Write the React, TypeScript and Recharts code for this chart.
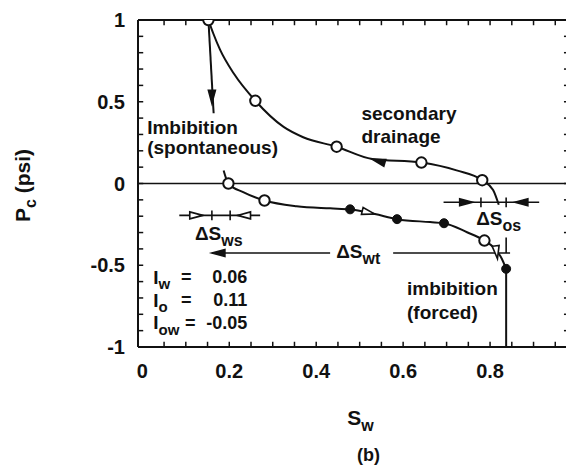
import React from "react"
import { ComposedChart, Line, Scatter, XAxis, YAxis, ReferenceLine } from "recharts"

const INK = "#111"
const FONT = '"Liberation Sans", Arial, Helvetica, sans-serif'

// secondary drainage curve
const drainageSw = [0.152, 0.163, 0.179, 0.21, 0.26, 0.325, 0.37, 0.447, 0.529, 0.642, 0.723, 0.782, 0.807, 0.82]
const drainagePc = [1.0, 0.919, 0.817, 0.674, 0.506, 0.346, 0.283, 0.225, 0.15, 0.128, 0.08, 0.02, -0.04, -0.13]

// imbibition curve (spontaneous part, then forced part)
const imbibitionSw = [0.187, 0.198, 0.232, 0.281, 0.355, 0.432, 0.478, 0.535, 0.586, 0.662, 0.694, 0.747, 0.787, 0.808, 0.827, 0.837]
const imbibitionPc = [0.08, 0.0, -0.053, -0.104, -0.139, -0.152, -0.158, -0.187, -0.218, -0.236, -0.243, -0.298, -0.349, -0.39, -0.46, -0.522]

// straight drop from Pc = 1 (spontaneous imbibition arrow)
const dropSw = [0.152, 0.164]
const dropPc = [1.0, 0.43]

// forced imbibition, vertical tail
const forcedSw = [0.837, 0.837]
const forcedPc = [-0.522, -1.0]

// measured points
const openSw = [0.152, 0.26, 0.447, 0.642, 0.782, 0.198, 0.281, 0.787]
const openPc = [1.0, 0.506, 0.225, 0.128, 0.02, 0.0, -0.104, -0.349]
const filledSw = [0.478, 0.586, 0.694, 0.837]
const filledPc = [-0.158, -0.218, -0.243, -0.522]

// arrowheads: tip position and direction (deg, svg coords)
const solidArrowSw = [0.160, 0.529, 0.160, 0.760, 0.857]
const solidArrowPc = [0.49, 0.148, -0.425, -0.115, -0.115]
const solidArrowDir = [90, 196, 180, 0, 180]
const hollowArrowSw = [0.535, 0.817, 0.139, 0.219]
const hollowArrowPc = [-0.187, -0.46, -0.195, -0.195]
const hollowArrowDir = [14, 82, 0, 180]

// delta-S brackets
const segX1 = [0.085, 0.160, 0.202, 0.693, 0.779, 0.837, 0.160, 0.577, 0.837]
const segY1 = [-0.195, -0.165, -0.165, -0.115, -0.085, -0.085, -0.425, -0.425, -0.33]
const segX2 = [0.271, 0.160, 0.202, 0.913, 0.779, 0.837, 0.432, 0.846, 0.837]
const segY2 = [-0.195, -0.225, -0.225, -0.115, -0.145, -0.145, -0.425, -0.425, -0.425]

// text notes
const noteText = ["Imbibition", "(spontaneous)", "secondary", "drainage", "imbibition", "(forced)"]
const noteSw = [0.011, 0.011, 0.504, 0.504, 0.609, 0.609]
const notePc = [0.345, 0.222, 0.429, 0.286, -0.641, -0.788]

const deltaSub = ["ws", "os", "wt"]
const deltaSw = [0.121, 0.768, 0.446]
const deltaPc = [-0.303, -0.214, -0.413]

const indexSub = ["w", "o", "ow"]
const indexValue = ["0.06", "0.11", "-0.05"]
const indexSw = [0.025, 0.025, 0.025]
const indexPc = [-0.572, -0.713, -0.853]

// axis ticks
const xTicks = [0, 0.2, 0.4, 0.6, 0.8]
const yTicks = [-1, -0.5, 0, 0.5, 1]
const xMinor = [0.05, 0.1, 0.15, 0.2, 0.25, 0.3, 0.35, 0.4, 0.45, 0.5, 0.55, 0.6, 0.65, 0.7, 0.75, 0.8, 0.85, 0.9, 0.95]
const yMinor = [-0.9, -0.8, -0.7, -0.6, -0.5, -0.4, -0.3, -0.2, -0.1, 0, 0.1, 0.2, 0.3, 0.4, 0.5, 0.6, 0.7, 0.8, 0.9]

const pts = (xs: number[], ys: number[]) => xs.map((x, i) => ({ x, y: ys[i] }))

const drainage = pts(drainageSw, drainagePc)
const imbibition = pts(imbibitionSw, imbibitionPc)
const drop = pts(dropSw, dropPc)
const forced = pts(forcedSw, forcedPc)
const openPts = pts(openSw, openPc)
const filledPts = pts(filledSw, filledPc)
const solidArrows = solidArrowSw.map((x, i) => ({ x, y: solidArrowPc[i], dir: solidArrowDir[i] }))
const hollowArrows = hollowArrowSw.map((x, i) => ({ x, y: hollowArrowPc[i], dir: hollowArrowDir[i] }))
const notes = noteSw.map((x, i) => ({ x, y: notePc[i], text: noteText[i] }))
const deltas = deltaSw.map((x, i) => ({ x, y: deltaPc[i], sub: deltaSub[i] }))
const indices = indexSw.map((x, i) => ({ x, y: indexPc[i], sub: indexSub[i], value: indexValue[i] }))

const arrowShape = (filled: boolean) => (p: any) => {
  const { cx, cy, payload } = p
  const a = (payload.dir * Math.PI) / 180
  const L = 13
  const W = 7
  const c = [
    [0, 0],
    [-L, -W / 2],
    [-L, W / 2],
  ].map(([u, v]) => [cx + u * Math.cos(a) - v * Math.sin(a), cy + u * Math.sin(a) + v * Math.cos(a)])
  return (
    <path
      d={`M${c[0][0]},${c[0][1]}L${c[1][0]},${c[1][1]}L${c[2][0]},${c[2][1]}Z`}
      fill={filled ? INK : "#fff"}
      stroke={INK}
      strokeWidth={1.6}
    />
  )
}

const noteShape = (p: any) => (
  <text x={p.cx} y={p.cy} dominantBaseline="central" fontSize={19} fontWeight="bold" fill={INK} fontFamily={FONT}>
    {p.payload.text}
  </text>
)

const deltaShape = (p: any) => (
  <text x={p.cx} y={p.cy} dominantBaseline="central" fontSize={19} fontWeight="bold" fill={INK} fontFamily={FONT}>
    ΔS
    <tspan fontSize={16} dy={7}>
      {p.payload.sub}
    </tspan>
  </text>
)

const indexShape = (p: any) => {
  const { cx, cy, payload } = p
  return (
    <g fontFamily={FONT} fill={INK} fontWeight="bold">
      <text x={cx} y={cy} dominantBaseline="central" fontSize={19}>
        I
        <tspan fontSize={15} dy={6}>
          {payload.sub}
        </tspan>
      </text>
      <text x={cx + 33 + (payload.sub.length > 1 ? 4 : 0)} y={cy} dominantBaseline="central" textAnchor="middle" fontSize={18}>
        =
      </text>
      <text x={cx + 94} y={cy} dominantBaseline="central" textAnchor="end" fontSize={18}>
        {payload.value}
      </text>
    </g>
  )
}

const XTitle = (p: any) => {
  const vb = p.viewBox
  const cx = vb.x + vb.width / 2
  return (
    <g fontFamily={FONT} fill={INK} fontWeight="bold">
      <text x={cx + 3} y={vb.y + 78} textAnchor="middle" fontSize={21}>
        S
        <tspan fontSize={16} dy={6}>
          w
        </tspan>
      </text>
      <text x={cx + 11} y={vb.y + 114} textAnchor="middle" fontSize={18}>
        (b)
      </text>
    </g>
  )
}

const YTitle = (p: any) => {
  const vb = p.viewBox
  return (
    <text
      transform={`translate(${vb.x + 30},${vb.y + vb.height / 2 + 2}) rotate(-90)`}
      textAnchor="middle"
      fontSize={21}
      fontWeight="bold"
      fill={INK}
      fontFamily={FONT}
    >
      P
      <tspan fontSize={16} dy={6}>
        c
      </tspan>
      <tspan dy={-6}> (psi)</tspan>
    </text>
  )
}

export default function App() {
  const tick = { fill: INK, fontSize: 20, fontFamily: FONT, fontWeight: "bold" }
  return (
    <div style={{ position: "absolute", left: 0, top: 0, width: 566, height: 470, overflow: "hidden", background: "#fff" }}>
      <ComposedChart width={600} height={470} margin={{ top: 20, right: 23, bottom: 63, left: 0 }}>
        <XAxis
          type="number"
          dataKey="x"
          domain={[-0.01, 1]}
          allowDataOverflow
          ticks={xTicks}
          tickFormatter={(v) => String(v)}
          tick={tick}
          tickLine={false}
          tickSize={15}
          axisLine={{ stroke: INK, strokeWidth: 2 }}
          height={60}
          label={{ content: XTitle }}
        />
        <YAxis
          type="number"
          dataKey="y"
          domain={[-1, 1]}
          allowDataOverflow
          ticks={yTicks}
          tickFormatter={(v) => String(v)}
          tick={tick}
          tickLine={false}
          tickSize={11}
          axisLine={{ stroke: INK, strokeWidth: 2 }}
          width={138}
          label={{ content: YTitle }}
        />

        {/* frame top, zero line, right edge */}
        <ReferenceLine y={1} stroke={INK} strokeWidth={2} />
        <ReferenceLine y={0} stroke={INK} strokeWidth={1.5} />
        <ReferenceLine x={1} stroke={INK} strokeWidth={2} />

        {/* inward minor ticks */}
        {xMinor.map((v) => (
          <ReferenceLine key={"t" + v} segment={[{ x: v, y: 1 }, { x: v, y: 0.968 }]} stroke={INK} strokeWidth={1.5} />
        ))}
        {xMinor.map((v) => (
          <ReferenceLine key={"b" + v} segment={[{ x: v, y: -1 }, { x: v, y: -0.968 }]} stroke={INK} strokeWidth={1.5} />
        ))}
        {yMinor.map((v) => (
          <ReferenceLine key={"l" + v} segment={[{ x: -0.01, y: v }, { x: 0.002, y: v }]} stroke={INK} strokeWidth={1.5} />
        ))}
        {yMinor.map((v) => (
          <ReferenceLine key={"r" + v} segment={[{ x: 0.97, y: v }, { x: 1, y: v }]} stroke={INK} strokeWidth={1.5} />
        ))}

        {/* delta-S brackets */}
        {segX1.map((x1, i) => (
          <ReferenceLine
            key={"s" + i}
            segment={[{ x: x1, y: segY1[i] }, { x: segX2[i], y: segY2[i] }]}
            stroke={INK}
            strokeWidth={1.6}
          />
        ))}

        <Line data={drainage} dataKey="y" type="monotone" dot={false} stroke={INK} strokeWidth={2} isAnimationActive={false} />
        <Line data={imbibition} dataKey="y" type="monotone" dot={false} stroke={INK} strokeWidth={2} isAnimationActive={false} />
        <Line data={drop} dataKey="y" type="linear" dot={false} stroke={INK} strokeWidth={2} isAnimationActive={false} />
        <Line data={forced} dataKey="y" type="linear" dot={false} stroke={INK} strokeWidth={2} isAnimationActive={false} />

        <Scatter
          data={openPts}
          isAnimationActive={false}
          shape={(p: any) => <circle cx={p.cx} cy={p.cy} r={5.2} fill="#fff" stroke={INK} strokeWidth={2} />}
        />
        <Scatter
          data={filledPts}
          isAnimationActive={false}
          shape={(p: any) => <circle cx={p.cx} cy={p.cy} r={4.5} fill={INK} stroke={INK} strokeWidth={1} />}
        />
        <Scatter data={solidArrows} isAnimationActive={false} shape={arrowShape(true)} />
        <Scatter data={hollowArrows} isAnimationActive={false} shape={arrowShape(false)} />

        <Scatter data={notes} isAnimationActive={false} shape={noteShape} />
        <Scatter data={deltas} isAnimationActive={false} shape={deltaShape} />
        <Scatter data={indices} isAnimationActive={false} shape={indexShape} />
      </ComposedChart>
    </div>
  )
}
